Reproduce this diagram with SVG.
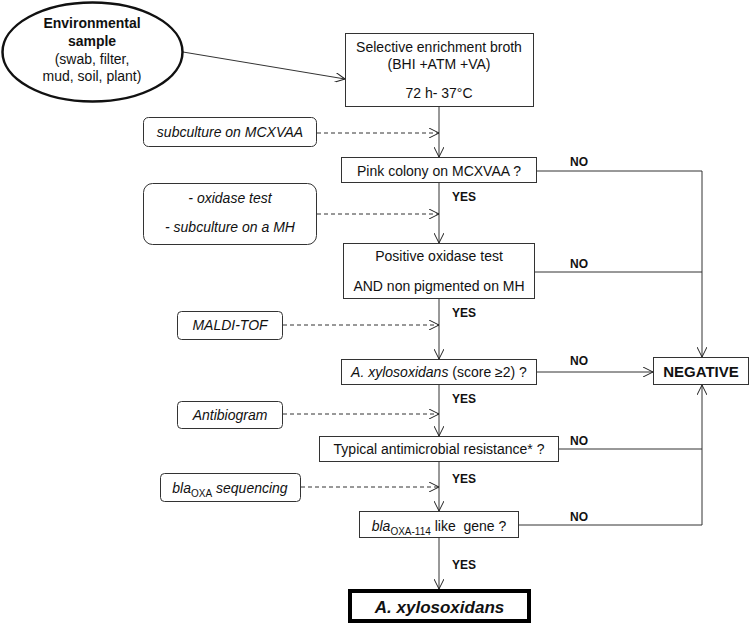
<svg xmlns="http://www.w3.org/2000/svg" width="750" height="624" viewBox="0 0 750 624">
<defs>
<marker id="arr" viewBox="0 0 10 10" refX="10" refY="5" markerWidth="10" markerHeight="10" markerUnits="userSpaceOnUse" orient="auto">
<path d="M0,0 L10,5 L0,10" fill="none" stroke="#222" stroke-width="1"/>
</marker>
<style>
text{font-family:"Liberation Sans",Arial,sans-serif;font-size:14px;fill:#111}
.box{fill:#fff;stroke:#333;stroke-width:1}
.side{fill:#fff;stroke:#333;stroke-width:1}
.it{font-style:italic}
.b{font-weight:bold}
.sub{font-size:10px;font-style:normal}
.lab{font-weight:bold;font-size:12px}
.neg{font-weight:bold;font-size:15px}
.res{font-weight:bold;font-style:italic;font-size:17px}
.ln{fill:none;stroke:#333;stroke-width:1}
.arrow{fill:none;stroke:#333;stroke-width:1;marker-end:url(#arr)}
.dash{fill:none;stroke:#333;stroke-width:1;stroke-dasharray:4,3;marker-end:url(#arr)}
</style>
</defs>
<rect width="750" height="624" fill="#fff"/>

<g id="connectors">
<line class="arrow" x1="183" y1="52" x2="345" y2="79"/>
<line class="arrow" x1="439" y1="107" x2="439" y2="157"/>
<line class="arrow" x1="439" y1="183" x2="439" y2="243"/>
<line class="arrow" x1="439" y1="299" x2="439" y2="359"/>
<line class="arrow" x1="439" y1="385" x2="439" y2="436"/>
<line class="arrow" x1="439" y1="462" x2="439" y2="511"/>
<line class="arrow" x1="439" y1="538" x2="439" y2="589"/>
<line class="dash" x1="317" y1="133" x2="439" y2="133"/>
<line class="dash" x1="317" y1="214" x2="439" y2="214"/>
<line class="dash" x1="283" y1="325" x2="439" y2="325"/>
<line class="dash" x1="283" y1="414" x2="439" y2="414"/>
<line class="dash" x1="301" y1="487" x2="439" y2="487"/>
<polyline class="arrow" points="537,171 702,171 702,357"/>
<line class="ln" x1="535" y1="272" x2="702" y2="272"/>
<line class="arrow" x1="537" y1="372" x2="653" y2="372"/>
<polyline class="arrow" points="519,525 702,525 702,385"/>
<line class="ln" x1="559" y1="449" x2="702" y2="449"/>
<text class="lab" x="452" y="201">YES</text>
<text class="lab" x="452" y="317">YES</text>
<text class="lab" x="452" y="403">YES</text>
<text class="lab" x="452" y="483">YES</text>
<text class="lab" x="452" y="569">YES</text>
<text class="lab" x="570" y="166">NO</text>
<text class="lab" x="570" y="268">NO</text>
<text class="lab" x="570" y="365">NO</text>
<text class="lab" x="570" y="445">NO</text>
<text class="lab" x="570" y="521">NO</text>
</g>

<g id="sample">
<ellipse cx="92.5" cy="52" rx="90" ry="49.5" fill="#fff" stroke="#111" stroke-width="2.5"/>
<text class="b" x="92" y="28" text-anchor="middle">Environmental</text>
<text class="b" x="92" y="46" text-anchor="middle">sample</text>
<text x="92" y="64" text-anchor="middle">(swab, filter,</text>
<text x="92" y="81" text-anchor="middle">mud, soil, plant)</text>
</g>

<g id="enrichment">
<rect class="box" x="345.5" y="33.5" width="188" height="73"/>
<text x="439" y="52" text-anchor="middle">Selective enrichment broth</text>
<text x="439" y="69" text-anchor="middle">(BHI +ATM +VA)</text>
<text x="439" y="98" text-anchor="middle">72 h- 37°C</text>
</g>

<g id="subculture">
<rect class="side" x="143.5" y="117.5" width="173" height="29" rx="5"/>
<text class="it" x="230" y="137" text-anchor="middle">subculture on MCXVAA</text>
</g>

<g id="pink">
<rect class="box" x="341.5" y="157.5" width="195" height="25"/>
<text x="439" y="176" text-anchor="middle">Pink colony on MCXVAA ?</text>
</g>

<g id="oxidase-tests">
<rect class="side" x="143.5" y="183.5" width="173" height="61" rx="9"/>
<text class="it" x="230" y="203" text-anchor="middle">- oxidase test</text>
<text class="it" x="230" y="232" text-anchor="middle">- subculture on a MH</text>
</g>

<g id="positive-oxidase">
<rect class="box" x="343.5" y="243.5" width="191" height="55"/>
<text x="439" y="261" text-anchor="middle">Positive oxidase test</text>
<text x="439" y="291" text-anchor="middle">AND non pigmented on MH</text>
</g>

<g id="maldi">
<rect class="side" x="177.5" y="311.5" width="105" height="28" rx="4"/>
<text class="it" x="230" y="330" text-anchor="middle">MALDI-TOF</text>
</g>

<g id="axylo-score">
<rect class="box" x="341.5" y="359.5" width="195" height="25"/>
<text x="439" y="377" text-anchor="middle"><tspan class="it">A. xylosoxidans</tspan> (score ≥2) ?</text>
</g>

<g id="antibiogram">
<rect class="side" x="177.5" y="401.5" width="105" height="27" rx="4"/>
<text class="it" x="230" y="420" text-anchor="middle">Antibiogram</text>
</g>

<g id="resistance">
<rect class="box" x="319.5" y="436.5" width="239" height="25"/>
<text x="439" y="454" text-anchor="middle">Typical antimicrobial resistance* ?</text>
</g>

<g id="sequencing">
<rect class="side" x="160.5" y="473.5" width="140" height="28" rx="4"/>
<text class="it" x="230" y="493" text-anchor="middle">bla<tspan class="sub" dy="4">OXA</tspan><tspan dy="-4"> sequencing</tspan></text>
</g>

<g id="oxa114">
<rect class="box" x="359.5" y="511.5" width="159" height="26"/>
<text x="439" y="531" text-anchor="middle"><tspan class="it">bla</tspan><tspan class="sub" dy="4">OXA-114</tspan><tspan dy="-4"> like&#160; gene ?</tspan></text>
</g>

<g id="negative">
<rect class="box" x="653.5" y="357.5" width="95" height="27"/>
<text class="neg" x="701" y="377" text-anchor="middle">NEGATIVE</text>
</g>

<g id="result">
<rect x="350" y="591" width="179" height="30" fill="#fff" stroke="#000" stroke-width="4"/>
<text class="res" x="439.5" y="613" text-anchor="middle">A. xylosoxidans</text>
</g>
</svg>
